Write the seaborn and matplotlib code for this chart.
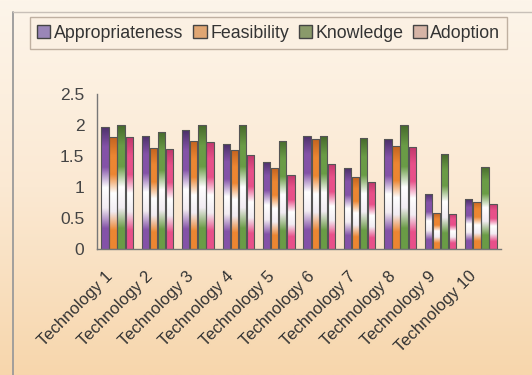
import numpy as np
import pandas as pd
import seaborn as sns
import matplotlib.pyplot as plt
import matplotlib.transforms as mtransforms
from matplotlib.colors import LinearSegmentedColormap
from matplotlib.patches import Rectangle

# data
technologies = [f"Technology {i}" for i in range(1, 11)]
appropriateness = [1.97, 1.83, 1.92, 1.69, 1.41, 1.83, 1.30, 1.77, 0.89, 0.80]
feasibility = [1.80, 1.63, 1.74, 1.59, 1.30, 1.77, 1.16, 1.66, 0.58, 0.76]
knowledge = [2.00, 1.89, 2.00, 2.00, 1.75, 1.82, 1.79, 2.00, 1.53, 1.33]
adoption = [1.80, 1.61, 1.73, 1.51, 1.19, 1.38, 1.08, 1.64, 0.57, 0.73]
series = ["Appropriateness", "Feasibility", "Knowledge", "Adoption"]

df = pd.DataFrame({"Technology": technologies,
                   "Appropriateness": appropriateness,
                   "Feasibility": feasibility,
                   "Knowledge": knowledge,
                   "Adoption": adoption})
long = df.melt(id_vars="Technology", var_name="Indicator", value_name="Score")

# base / dark colours of each series
base = {"Appropriateness": "#8452a8", "Feasibility": "#ec8632",
        "Knowledge": "#6a9c46", "Adoption": "#e8508a"}
dark = {"Appropriateness": "#4a3068", "Feasibility": "#c46420",
        "Knowledge": "#46692c", "Adoption": "#c0386c"}
legend_col = {"Appropriateness": "#9a86b8", "Feasibility": "#e0a673",
              "Knowledge": "#8a9a6a", "Adoption": "#d6b4a6"}

sns.set_style("white")
plt.rcParams["font.family"] = ["Liberation Sans", "DejaVu Sans"]

fig = plt.figure(figsize=(5.32, 3.75), dpi=100)

# peach background with a soft vertical gradient
bg = fig.add_axes([0, 0, 1, 1], zorder=-10)
grad = np.linspace(0, 1, 256).reshape(-1, 1)
bg_cmap = LinearSegmentedColormap.from_list("bg", ["#fdf5ea", "#fbe9d3", "#f7d6ac"])
bg.imshow(grad, aspect="auto", cmap=bg_cmap, extent=[0, 1, 0, 1], origin="upper")
bg.plot([0.024, 0.024], [0.0, 0.968], color="#9a9a9a", lw=1.3)
bg.plot([0.024, 1.0], [0.968, 0.968], color="#c8c0b8", lw=1.0)
bg.set_xlim(0, 1)
bg.set_ylim(0, 1)
bg.axis("off")
fig.patch.set_facecolor("#fdf5ea")

ax = fig.add_axes([0.182, 0.336, 0.76, 0.413])
ax.set_facecolor("none")

sns.barplot(data=long, x="Technology", y="Score", hue="Indicator",
            hue_order=series, palette=base, width=0.8, gap=0.1,
            ax=ax, legend=False, saturation=1)

# vertical gradient for each bar: dark top, white middle, coloured bottom
n = len(technologies)
for k, name in enumerate(series):
    cmap = LinearSegmentedColormap.from_list(
        name, [dark[name], base[name], base[name], "#ffffff", "#f2ecf2", base[name], base[name]])
    for patch in ax.patches[k * n:(k + 1) * n]:
        x0, y0 = patch.get_x(), patch.get_y()
        w, h = patch.get_width(), patch.get_height()
        patch.set_facecolor("none")
        patch.set_edgecolor("#555555")
        patch.set_linewidth(0.8)
        im = ax.imshow(grad, aspect="auto", cmap=cmap,
                       extent=[x0, x0 + w, y0, y0 + h], origin="upper", zorder=1.5)
        im.set_clip_path(patch)
        patch.set_zorder(2)

ax.set_xlim(-0.5, n - 0.5)
ax.set_ylim(0, 2.5)
ax.set_yticks([0, 0.5, 1, 1.5, 2, 2.5])
ax.set_yticklabels(["0", "0.5", "1", "1.5", "2", "2.5"])
ax.set_xticks(range(n))
ax.set_xticklabels(technologies, rotation=45, ha="right", rotation_mode="anchor")
ax.set_xticks(np.arange(-0.5, n, 1), minor=True)
ax.tick_params(axis="x", which="major", length=0, pad=14, labelsize=12, colors="#333333")
ax.tick_params(axis="x", which="minor", length=4, color="#777777", direction="out")
ax.tick_params(axis="y", length=4, color="#777777", direction="out",
               labelsize=12.5, colors="#444444", pad=5)
# labels end a little left of the group centre, as in the original
shift = mtransforms.ScaledTranslation(-0.12, 0, fig.dpi_scale_trans)
for lab in ax.get_xticklabels():
    lab.set_transform(lab.get_transform() + shift)
ax.set_xlabel("")
ax.set_ylabel("")
sns.despine(ax=ax)
for side in ["left", "bottom"]:
    ax.spines[side].set_color("#777777")
    ax.spines[side].set_linewidth(1)

handles = [Rectangle((0, 0), 1, 1, fc=legend_col[s], ec="#444444", lw=1) for s in series]
leg = fig.legend(handles, series, loc="center", bbox_to_anchor=(0.505, 0.912),
                 ncol=4, frameon=True, fontsize=12.8, handlelength=0.75,
                 handleheight=0.75, handletextpad=0.2, columnspacing=0.55,
                 borderpad=0.4, fancybox=False)
leg.get_frame().set_edgecolor("#b0a090")
leg.get_frame().set_facecolor("#fbf0e2")
for t in leg.get_texts():
    t.set_color("#333333")

fig.savefig("out.png", dpi=100)
